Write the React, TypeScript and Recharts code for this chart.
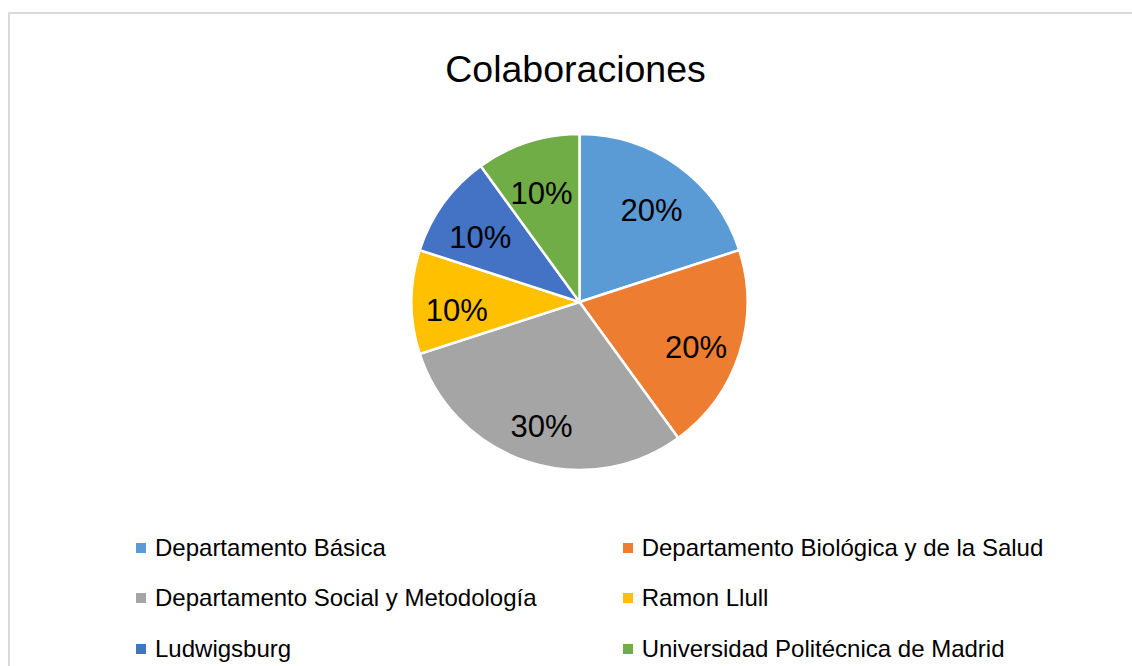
import React from 'react';
import { PieChart, Pie, Cell, Legend } from 'recharts';

const categories: string[] = [
  'Departamento Básica',
  'Departamento Biológica y de la Salud',
  'Departamento Social y Metodología',
  'Ramon Llull',
  'Ludwigsburg',
  'Universidad Politécnica de Madrid',
];
const shares: number[] = [20, 20, 30, 10, 10, 10];
const colors: string[] = ['#5B9BD5', '#ED7D31', '#A5A5A5', '#FFC000', '#4472C4', '#70AD47'];
const title = 'Colaboraciones';

const data = categories.map((name, i) => ({ name, value: shares[i] }));

const FONT = '"Liberation Sans", Arial, sans-serif';
const RAD = Math.PI / 180;

const renderLabel = (props: any) => {
  const { cx, cy, midAngle, outerRadius, percent } = props;
  const r = outerRadius * 0.73;
  const x = cx + r * Math.cos(-midAngle * RAD);
  const y = cy + r * Math.sin(-midAngle * RAD) + 8;
  return (
    <text
      x={x}
      y={y}
      fill="#000"
      textAnchor="middle"
      dominantBaseline="central"
      fontSize={31}
      fontFamily={FONT}
    >
      {`${Math.round(percent * 100)}%`}
    </text>
  );
};

const renderLegend = () => {
  return (
    <div style={{ position: 'relative', width: 1132, height: 666 }}>
      {categories.map((name, i) => {
        const col = i % 2;
        const row = Math.floor(i / 2);
        return (
          <div
            key={name}
            style={{
              position: 'absolute',
              left: 136 + col * 486.7,
              top: 547.5 + row * 50.5 - 14,
              height: 28,
              display: 'flex',
              alignItems: 'center',
              whiteSpace: 'nowrap',
              fontFamily: FONT,
              fontSize: 24,
              color: '#000',
            }}
          >
            <span
              style={{
                display: 'inline-block',
                width: 10,
                height: 10,
                background: colors[i],
                marginRight: 9,
              }}
            />
            <span>{name}</span>
          </div>
        );
      })}
    </div>
  );
};

export default function App() {
  return (
    <div
      style={{
        position: 'absolute',
        left: 0,
        top: 0,
        width: 1132,
        height: 666,
        overflow: 'hidden',
        background: '#fff',
      }}
    >
      <div
        style={{
          position: 'absolute',
          left: 8,
          top: 12,
          width: 1140,
          height: 670,
          border: '2px solid #d9d9d9',
          boxSizing: 'border-box',
        }}
      />
      <div
        style={{
          position: 'absolute',
          left: 0,
          top: 48,
          width: 1151,
          textAlign: 'center',
          fontFamily: FONT,
          fontSize: 37.5,
          lineHeight: '42px',
          color: '#000',
        }}
      >
        {title}
      </div>
      <div style={{ position: 'absolute', left: 0, top: 0 }}>
        <PieChart width={1132} height={666} margin={{ top: 0, right: 0, bottom: 0, left: 0 }}>
          <Pie
            data={data}
            dataKey="value"
            nameKey="name"
            cx={579.5}
            cy={302}
            outerRadius={168}
            startAngle={90}
            endAngle={-270}
            stroke="#fff"
            strokeWidth={2.5}
            label={renderLabel}
            labelLine={false}
            isAnimationActive={false}
          >
            {data.map((d, i) => (
              <Cell key={d.name} fill={colors[i]} />
            ))}
          </Pie>
          <Legend
            content={renderLegend}
            verticalAlign="bottom"
            wrapperStyle={{ position: 'absolute', left: 0, top: 0, bottom: 'auto', width: 1132, height: 666 }}
          />
        </PieChart>
      </div>
    </div>
  );
}
